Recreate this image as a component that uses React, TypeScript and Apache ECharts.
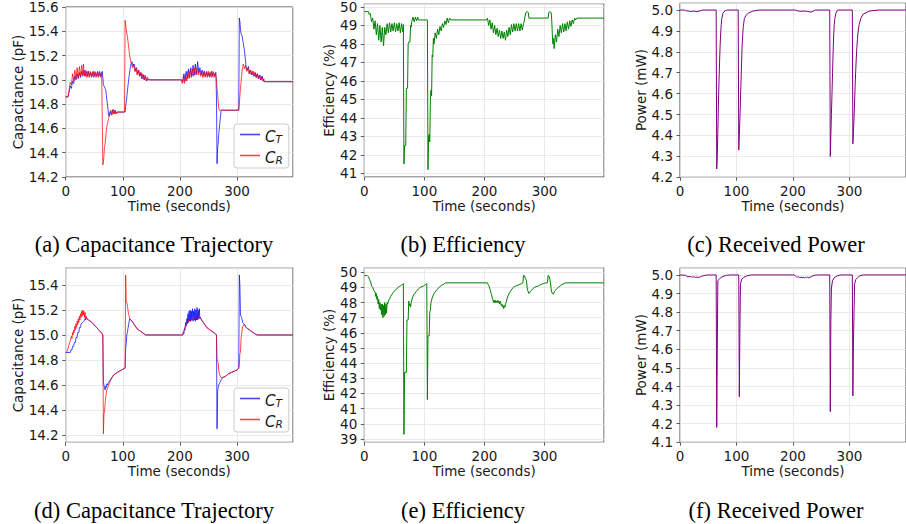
import { useEffect, useRef } from "react";
import * as echarts from "echarts";

type P = [number, number];

// ---------- (a) Capacitance trajectory ----------
const capTransmitterA: P[] = [[0,14.86],[4,14.86],[6,14.9],[8,14.95],[10,14.93],[12,14.99],[14,14.97],[16,15.03],[18,15.0],[20,15.05],[22,15.01],[24,15.06],[26,15.02],[28,15.07],[30,15.03],[32,15.08],[34,15.03],[36,15.07],[38,15.03],[40,15.07],[42,15.03],[44,15.06],[46,15.03],[48,15.07],[50,15.03],[52,15.06],[54,15.03],[56,15.07],[58,15.03],[60,15.06],[62,15.03],[64,15.07],[65,15.07],[66,14.96],[67,14.95],[68,14.94],[69,14.93],[70,14.92],[71,14.88],[72,14.84],[73,14.8],[74,14.76],[75,14.71],[76,14.7],[78,14.74],[80,14.71],[82,14.75],[84,14.72],[86,14.75],[88,14.72],[90,14.735],[104,14.735],[105,14.78],[107,14.86],[109,14.95],[111,15.03],[113,15.1],[115,15.14],[116,15.15],[118,15.11],[120,15.13],[122,15.07],[124,15.1],[126,15.05],[128,15.08],[130,15.03],[132,15.06],[134,15.01],[136,15.04],[138,15.0],[140,15.03],[142,14.99],[144,15.01],[146,15.0],[203,15.0],[205,14.98],[207,15.05],[209,14.99],[211,15.07],[213,15.01],[215,15.09],[217,15.02],[219,15.1],[221,15.03],[223,15.12],[225,15.04],[227,15.13],[229,15.05],[231,15.15],[233,15.06],[235,15.1],[237,15.04],[239,15.08],[241,15.03],[243,15.07],[245,15.03],[247,15.07],[249,15.03],[251,15.06],[253,15.03],[255,15.07],[257,15.03],[259,15.06],[261,15.03],[263,15.06],[264,14.85],[265,14.31],[266,14.44],[267,14.48],[268,14.55],[269,14.6],[270,14.65],[271,14.7],[272,14.74],[273,14.75],[303,14.75],[304,15.51],[305,15.48],[306,15.42],[307,15.38],[309,15.36],[311,15.3],[313,15.24],[315,15.15],[316,15.1],[318,15.08],[320,15.11],[322,15.05],[324,15.08],[326,15.04],[328,15.07],[330,15.03],[332,15.06],[334,15.02],[336,15.05],[338,15.01],[340,15.04],[342,15.0],[344,15.03],[346,14.99],[348,14.985],[398,14.985]];

const capReceiverA: P[] = [[0,14.86],[4,14.86],[6,14.92],[8,14.98],[10,14.96],[12,15.05],[14,14.99],[16,15.08],[18,15.01],[20,15.1],[22,15.02],[24,15.11],[26,15.03],[28,15.12],[30,15.04],[31,15.13],[33,15.03],[35,15.08],[37,15.02],[39,15.07],[41,15.02],[43,15.07],[45,15.02],[47,15.06],[49,15.02],[51,15.07],[53,15.02],[55,15.06],[57,15.02],[59,15.07],[61,15.02],[63,15.06],[64,15.06],[65,14.3],[66,14.32],[67,14.38],[68,14.45],[69,14.47],[70,14.52],[71,14.58],[72,14.61],[73,14.64],[74,14.66],[75,14.68],[76,14.7],[77,14.72],[79,14.75],[81,14.71],[83,14.76],[85,14.72],[87,14.75],[89,14.72],[90,14.735],[103,14.735],[104,15.49],[105,15.46],[106,15.41],[108,15.36],[110,15.28],[112,15.2],[114,15.15],[116,15.12],[117,15.1],[119,15.13],[121,15.07],[123,15.1],[125,15.04],[127,15.08],[129,15.03],[131,15.06],[133,15.01],[135,15.05],[137,15.0],[139,15.04],[141,14.99],[143,15.02],[145,15.0],[203,15.0],[204,14.97],[206,15.03],[208,14.97],[210,15.05],[212,14.99],[214,15.07],[216,15.01],[218,15.08],[220,15.02],[222,15.09],[224,15.03],[226,15.1],[228,15.04],[230,15.1],[232,15.04],[234,15.08],[236,15.03],[238,15.07],[240,15.02],[242,15.07],[244,15.02],[246,15.06],[248,15.02],[250,15.07],[252,15.02],[254,15.06],[256,15.02],[258,15.07],[260,15.02],[262,15.06],[264,15.0],[265,14.93],[266,14.88],[267,14.82],[268,14.77],[269,14.75],[303,14.75],[304,14.8],[305,14.87],[306,14.92],[307,14.98],[308,15.03],[309,15.08],[310,15.11],[311,15.13],[313,15.09],[315,15.12],[317,15.07],[319,15.1],[321,15.05],[323,15.08],[325,15.04],[327,15.07],[329,15.03],[331,15.06],[333,15.02],[335,15.05],[337,15.01],[339,15.04],[341,15.0],[343,15.03],[345,14.99],[347,15.01],[348,14.985],[398,14.985]];

// ---------- (b) Efficiency ----------
const efficiencyB: P[] = [[0,49.75],[7,49.75],[8,49.6],[10,49.65],[12,49.2],[14,49.4],[16,48.8],[18,49.25],[20,48.5],[22,49.1],[24,48.2],[26,49.0],[28,48.1],[30,48.9],[32,47.9],[34,48.9],[36,48.5],[38,49.1],[40,48.6],[42,49.15],[44,48.65],[46,49.1],[48,48.7],[50,49.15],[52,48.65],[54,49.1],[56,48.7],[58,49.15],[60,48.6],[62,49.1],[64,48.65],[65,49.05],[66,41.5],[67,42.5],[69,42.5],[70,45.6],[72,45.6],[73,48.0],[74,48.1],[76,48.1],[77,49.0],[78,48.9],[79,49.2],[81,49.45],[83,49.2],[85,49.45],[87,49.25],[89,49.45],[90,49.3],[105,49.3],[106,41.2],[107,43.0],[108,43.1],[109,42.7],[110,45.0],[111,45.5],[112,45.2],[113,47.4],[114,47.3],[115,48.3],[116,48.0],[118,48.6],[120,48.3],[122,48.8],[124,48.5],[126,48.95],[128,48.7],[130,49.1],[132,48.9],[134,49.25],[136,49.05],[138,49.4],[140,49.15],[142,49.4],[144,49.3],[204,49.3],[205,49.4],[207,49.0],[209,49.3],[211,48.8],[213,49.15],[215,48.6],[217,49.0],[219,48.5],[221,48.85],[223,48.4],[225,48.75],[227,48.3],[229,48.7],[231,48.3],[233,48.65],[235,48.2],[237,48.75],[239,48.4],[241,48.9],[243,48.5],[245,49.05],[247,48.65],[249,49.1],[251,48.7],[253,49.1],[255,48.7],[257,49.1],[259,48.7],[261,49.1],[263,48.75],[265,49.1],[266,49.2],[267,49.4],[269,49.7],[271,49.75],[273,49.7],[274,49.4],[306,49.4],[307,49.7],[309,49.75],[311,49.7],[312,49.3],[313,48.5],[314,48.0],[315,48.3],[316,47.75],[318,48.5],[320,48.1],[322,48.8],[324,48.4],[326,49.0],[328,48.6],[330,49.1],[332,48.65],[334,49.1],[336,48.7],[338,49.2],[340,48.8],[342,49.25],[344,48.95],[346,49.3],[348,49.1],[350,49.4],[352,49.3],[354,49.4],[399,49.4]];

// ---------- (c) Received power ----------
const powerC: P[] = [[0,5.0],[8,5.0],[10,4.997],[15,4.995],[20,4.993],[25,4.995],[30,4.992],[35,4.996],[40,5.0],[64,5.0],[65,4.24],[66,4.3],[67,4.42],[68,4.55],[69,4.66],[70,4.75],[71,4.83],[72,4.89],[73,4.93],[74,4.96],[76,4.985],[80,4.997],[84,5.0],[103,5.0],[104,4.33],[105,4.4],[106,4.48],[107,4.57],[108,4.66],[109,4.75],[110,4.83],[111,4.88],[112,4.92],[114,4.96],[117,4.975],[121,4.985],[129,4.995],[140,5.0],[204,5.0],[208,4.996],[214,4.994],[220,4.995],[226,4.993],[232,4.99],[236,4.995],[240,5.0],[265,5.0],[266,4.3],[267,4.4],[268,4.5],[269,4.6],[270,4.7],[271,4.8],[272,4.88],[273,4.93],[274,4.96],[276,4.985],[279,5.0],[305,5.0],[306,4.36],[307,4.42],[308,4.48],[309,4.56],[310,4.64],[311,4.71],[312,4.77],[313,4.82],[314,4.86],[315,4.89],[317,4.93],[320,4.96],[324,4.98],[335,4.995],[352,5.0],[400,5.0]];

// ---------- (d) Capacitance trajectory ----------
const capTransmitterD: P[] = [[0,14.86],[8,14.86],[9,14.88],[11,14.88],[12,14.91],[14,14.91],[15,14.94],[17,14.94],[18,14.98],[20,14.98],[21,15.02],[23,15.02],[24,15.06],[26,15.06],[27,15.09],[30,15.1],[32,15.11],[34,15.13],[35,15.12],[36,15.14],[37,15.13],[40,15.12],[43,15.11],[46,15.1],[50,15.08],[54,15.06],[58,15.04],[62,15.02],[65,15.0],[66,14.62],[68,14.58],[69,14.56],[70,14.59],[71,14.58],[72,14.61],[73,14.6],[75,14.62],[78,14.64],[81,14.66],[84,14.68],[87,14.69],[90,14.7],[94,14.71],[98,14.72],[102,14.73],[104,14.735],[105,14.9],[106,14.93],[107,15.0],[108,15.02],[110,15.08],[112,15.13],[114,15.12],[116,15.11],[119,15.09],[122,15.07],[125,15.05],[128,15.04],[131,15.03],[134,15.02],[137,15.01],[140,15.0],[205,15.0],[206,15.02],[207,15.01],[208,15.05],[209,15.04],[210,15.1],[211,15.07],[212,15.13],[213,15.09],[214,15.17],[215,15.1],[216,15.19],[217,15.11],[218,15.2],[219,15.11],[220,15.19],[221,15.12],[222,15.21],[223,15.11],[224,15.19],[225,15.12],[226,15.21],[227,15.11],[228,15.2],[229,15.12],[230,15.22],[231,15.12],[232,15.2],[233,15.13],[234,15.21],[235,15.13],[236,15.14],[238,15.12],[241,15.1],[244,15.08],[247,15.06],[250,15.05],[253,15.04],[256,15.03],[259,15.02],[262,15.01],[264,15.0],[265,14.25],[266,14.55],[267,14.58],[268,14.6],[269,14.61],[270,14.62],[272,14.64],[275,14.66],[280,14.67],[285,14.69],[290,14.7],[295,14.71],[300,14.72],[303,14.735],[304,15.48],[305,15.4],[306,15.16],[307,15.15],[308,15.14],[310,15.1],[313,15.08],[316,15.06],[319,15.05],[322,15.04],[325,15.03],[328,15.02],[331,15.01],[335,15.0],[398,15.0]];

const capReceiverD: P[] = [[0,14.86],[3,14.87],[5,14.91],[7,14.94],[9,14.97],[10,14.99],[11,14.97],[12,15.02],[13,15.0],[14,15.04],[15,15.02],[16,15.07],[17,15.04],[18,15.09],[19,15.06],[20,15.11],[21,15.08],[22,15.13],[23,15.1],[24,15.15],[25,15.12],[26,15.17],[27,15.14],[28,15.19],[29,15.15],[30,15.2],[31,15.16],[32,15.19],[33,15.14],[34,15.18],[35,15.13],[36,15.15],[37,15.13],[40,15.12],[43,15.11],[46,15.1],[50,15.08],[54,15.06],[58,15.04],[62,15.02],[65,15.0],[66,14.21],[67,14.37],[68,14.38],[69,14.45],[70,14.5],[71,14.53],[72,14.56],[73,14.57],[75,14.6],[78,14.63],[81,14.66],[84,14.68],[87,14.69],[90,14.7],[94,14.71],[98,14.72],[102,14.73],[104,14.735],[105,15.48],[106,15.27],[107,15.26],[108,15.24],[109,15.2],[110,15.17],[111,15.15],[112,15.13],[114,15.12],[116,15.11],[119,15.09],[122,15.07],[125,15.05],[128,15.04],[131,15.03],[134,15.02],[137,15.01],[140,15.0],[205,15.0],[206,15.02],[208,15.05],[210,15.08],[212,15.1],[214,15.11],[216,15.12],[218,15.11],[220,15.12],[222,15.13],[224,15.12],[226,15.13],[228,15.14],[230,15.13],[232,15.14],[234,15.15],[236,15.13],[238,15.12],[241,15.1],[244,15.08],[247,15.06],[250,15.05],[253,15.04],[256,15.03],[259,15.02],[262,15.01],[264,15.0],[265,14.8],[266,14.8],[267,14.78],[268,14.72],[269,14.69],[270,14.68],[272,14.66],[275,14.66],[280,14.67],[285,14.69],[290,14.7],[295,14.71],[300,14.72],[303,14.735],[304,14.76],[305,14.85],[306,14.86],[307,14.97],[308,15.0],[309,15.05],[310,15.07],[312,15.08],[314,15.08],[316,15.06],[319,15.05],[322,15.04],[325,15.03],[328,15.02],[331,15.01],[335,15.0],[398,15.0]];

// ---------- (e) Efficiency ----------
const efficiencyE: P[] = [[0,49.78],[5,49.78],[7,49.7],[9,49.5],[11,49.3],[12,49.1],[14,49.0],[16,48.8],[18,48.7],[19,48.4],[20,48.6],[21,48.2],[22,48.4],[23,47.9],[24,48.2],[25,47.6],[26,48.0],[27,47.5],[28,47.9],[29,47.2],[30,47.9],[31,47.0],[32,47.8],[33,47.1],[34,48.0],[35,47.2],[36,47.9],[37,47.3],[38,48.0],[39,47.9],[40,48.1],[42,48.25],[44,48.4],[46,48.55],[48,48.65],[50,48.75],[52,48.85],[54,48.9],[56,49.0],[58,49.05],[60,49.1],[62,49.15],[64,49.2],[65,49.25],[66,39.3],[67,43.4],[70,43.4],[71,46.85],[73,46.85],[74,48.1],[75,47.8],[76,47.9],[77,47.7],[78,48.0],[80,48.3],[82,48.5],[84,48.6],[86,48.7],[88,48.8],[90,48.9],[93,49.0],[96,49.05],[99,49.1],[102,49.2],[104,49.25],[105,41.6],[106,45.8],[108,45.8],[109,47.4],[110,47.5],[111,48.0],[113,48.3],[115,48.5],[117,48.65],[120,48.8],[123,48.95],[126,49.05],[129,49.15],[132,49.2],[135,49.3],[205,49.3],[206,49.2],[208,49.05],[209,48.9],[210,48.8],[211,48.6],[212,48.5],[213,48.3],[214,48.2],[215,48.0],[216,48.15],[217,48.0],[218,48.15],[219,48.0],[220,48.1],[221,48.0],[222,48.15],[223,48.0],[224,48.1],[225,47.9],[226,48.1],[227,48.0],[228,47.8],[229,47.9],[230,47.7],[231,47.8],[232,47.6],[233,47.8],[234,47.7],[235,47.9],[236,48.0],[238,48.3],[240,48.5],[242,48.65],[244,48.8],[246,48.9],[248,49.0],[250,49.05],[253,49.1],[256,49.15],[259,49.2],[262,49.25],[264,49.3],[265,49.8],[267,49.75],[268,49.6],[270,49.45],[271,49.0],[272,48.8],[273,48.7],[274,48.6],[276,48.7],[278,48.8],[280,48.9],[283,49.0],[286,49.05],[290,49.1],[294,49.2],[298,49.25],[302,49.3],[305,49.3],[306,49.8],[308,49.7],[309,49.5],[310,49.3],[311,48.9],[312,48.7],[313,48.6],[315,48.55],[316,48.7],[318,48.8],[320,48.9],[323,49.0],[326,49.1],[329,49.2],[332,49.25],[335,49.3],[399,49.3]];

// ---------- (f) Received power ----------
const powerF: P[] = [[0,5.0],[10,4.998],[12,4.993],[14,4.99],[16,4.992],[18,4.99],[20,4.991],[22,4.988],[24,4.99],[26,4.989],[28,4.986],[30,4.99],[32,4.985],[34,4.988],[36,4.99],[40,4.995],[45,4.998],[50,5.0],[64,5.0],[65,4.18],[66,4.6],[67,4.97],[69,4.975],[72,4.985],[76,4.992],[82,4.998],[90,5.0],[104,5.0],[105,4.345],[106,4.7],[107,4.95],[109,4.975],[112,4.985],[118,4.995],[126,5.0],[202,5.0],[204,4.995],[206,4.99],[208,4.988],[210,4.99],[212,4.986],[214,4.988],[216,4.985],[218,4.988],[220,4.984],[222,4.987],[224,4.985],[226,4.988],[228,4.984],[230,4.988],[232,4.99],[235,4.995],[240,4.999],[245,5.0],[265,5.0],[266,4.265],[267,4.75],[268,4.93],[270,4.97],[273,4.985],[278,4.995],[285,5.0],[305,5.0],[306,4.35],[307,4.64],[308,4.8],[309,4.95],[311,4.975],[314,4.985],[318,4.995],[325,5.0],[400,5.0]];

const captions = ["(a) Capacitance Trajectory", "(b) Efficiency", "(c) Received Power", "(d) Capacitance Trajectory", "(e) Efficiency", "(f) Received Power"];
const yAxisNames = ["Capacitance (pF)", "Efficiency (%)", "Power (mW)", "Capacitance (pF)", "Efficiency (%)", "Power (mW)"];
const xAxisName = "Time (seconds)";
const legendNames = ["C_T", "C_R"];

const FONT = "DejaVu Sans";
const TXT = "#1a1a1a";
const SPINE = "#333";
const GRIDC = "#e4e4e4";

const layout = [
  { left: 65.7, top: 6.7, width: 227.3, height: 170.3, xMax: 398, yMin: 14.2, yMax: 15.6, step: 0.2, dec: 1, gap: 41 },
  { left: 364.3, top: 3.3, width: 239.7, height: 173.7, xMax: 399, yMin: 40.8, yMax: 50.18, step: 1, dec: 0, gap: 27 },
  { left: 680, top: 2.7, width: 235.6, height: 174.6, xMax: 400, yMin: 4.2, yMax: 5.035, step: 0.1, dec: 1, gap: 32 },
  { left: 65.7, top: 267.7, width: 227.3, height: 174.6, xMax: 398, yMin: 14.142, yMax: 15.538, step: 0.2, dec: 1, gap: 41 },
  { left: 364.3, top: 267.7, width: 239.7, height: 174.6, xMax: 399, yMin: 38.78, yMax: 50.3, step: 1, dec: 0, gap: 27 },
  { left: 680, top: 267.7, width: 235.6, height: 174.6, xMax: 400, yMin: 4.1, yMax: 5.039, step: 0.1, dec: 1, gap: 32 },
];

const isTick = (v: number, step: number) => Math.abs(v / step - Math.round(v / step)) < 1e-6;

export default function App() {
  const ref = useRef<HTMLDivElement>(null);
  useEffect(() => {
    if (!ref.current) return;
    const chart = echarts.init(ref.current, undefined, { renderer: "svg" });
    const grids = layout.map((l) => ({
      left: l.left, top: l.top, width: l.width, height: l.height,
      show: true, borderColor: SPINE, borderWidth: 0.9, backgroundColor: "transparent",
    }));
    const xAxes = layout.map((l, i) => ({
      type: "value", gridIndex: i, min: 0, max: l.xMax, interval: 100,
      axisLine: { show: false },
      axisTick: { show: true, length: 3.5, lineStyle: { color: SPINE, width: 0.8 } },
      axisLabel: { margin: 7, fontSize: 13.5, color: TXT, fontFamily: FONT, showMaxLabel: false, showMinLabel: true },
      splitLine: { show: true, lineStyle: { color: GRIDC, width: 0.8 } },
      name: xAxisName, nameLocation: "middle", nameGap: 22,
      nameTextStyle: { fontSize: 13.5, color: TXT, fontFamily: FONT },
    }));
    const yAxes = layout.map((l, i) => ({
      type: "value", gridIndex: i, min: l.yMin, max: l.yMax,
      minInterval: l.step, maxInterval: l.step, splitNumber: 8,
      axisLine: { show: false },
      axisTick: { show: true, length: 3.5, lineStyle: { color: SPINE, width: 0.8 } },
      axisLabel: {
        margin: 7, fontSize: 13.5, color: TXT, fontFamily: FONT,
        showMinLabel: isTick(l.yMin, l.step), showMaxLabel: isTick(l.yMax, l.step),
        formatter: (v: number) => v.toFixed(l.dec),
      },
      splitLine: { show: true, lineStyle: { color: GRIDC, width: 0.8 } },
      name: yAxisNames[i], nameLocation: "middle", nameGap: l.gap, nameRotate: 90,
      nameTextStyle: { fontSize: 13.5, color: TXT, fontFamily: FONT },
    }));
    const blue = "rgba(0,0,255,0.72)";
    const red = "rgba(255,0,0,0.72)";
    const line = (name: string, idx: number, data: P[], color: string) => ({
      type: "line", name, xAxisIndex: idx, yAxisIndex: idx, data,
      showSymbol: false, symbol: "none", silent: true, clip: true,
      color, lineStyle: { width: 1, color }, itemStyle: { color },
    });
    const series = [
      line(legendNames[0], 0, capTransmitterA, blue),
      line(legendNames[1], 0, capReceiverA, red),
      line("Efficiency", 1, efficiencyB, "#008000"),
      line("Power", 2, powerC, "#800080"),
      line(legendNames[0], 3, capTransmitterD, blue),
      line(legendNames[1], 3, capReceiverD, red),
      line("Efficiency ", 4, efficiencyE, "#008000"),
      line("Power ", 5, powerF, "#800080"),
    ];
    const legendBase = {
      orient: "vertical", data: legendNames,
      icon: "rect", itemWidth: 20, itemHeight: 1.6, itemGap: 5,
      backgroundColor: "rgba(255,255,255,0.85)", borderColor: "#cccccc", borderWidth: 1, borderRadius: 3,
      padding: [4, 6, 3, 6],
      formatter: (name: string) => name === "C_T" ? "{c|C}{s|T}" : "{c|C}{s|R}",
      textStyle: {
        color: TXT, fontFamily: FONT, fontSize: 14,
        rich: {
          c: { fontStyle: "italic", fontSize: 15, fontFamily: FONT, color: TXT, lineHeight: 19, verticalAlign: "bottom" },
          s: { fontStyle: "italic", fontSize: 10.5, fontFamily: FONT, color: TXT, lineHeight: 19, verticalAlign: "bottom", padding: [5, 0, 0, 0] },
        },
      },
    };
    const captionPos = [[154, 244], [463, 244], [776, 244], [154, 510], [463, 510], [776, 510]];
    chart.setOption({
      animation: false,
      textStyle: { fontFamily: FONT },
      grid: grids,
      xAxis: xAxes,
      yAxis: yAxes,
      legend: [
        { ...legendBase, left: 234, top: 124 },
        { ...legendBase, left: 234, top: 388 },
      ],
      series,
      graphic: captions.map((t, i) => ({
        type: "text", x: captionPos[i][0], y: captionPos[i][1], silent: true,
        style: {
          text: t, font: '22.5px "Liberation Serif"', fill: "#000",
          align: "center", verticalAlign: "middle", textAlign: "center", textVerticalAlign: "middle",
        },
      })),
    });
    return () => chart.dispose();
  }, []);
  return <div ref={ref} style={{ position: "fixed", left: 0, top: 0, width: 906, height: 524, background: "#fff" }} />;
}
